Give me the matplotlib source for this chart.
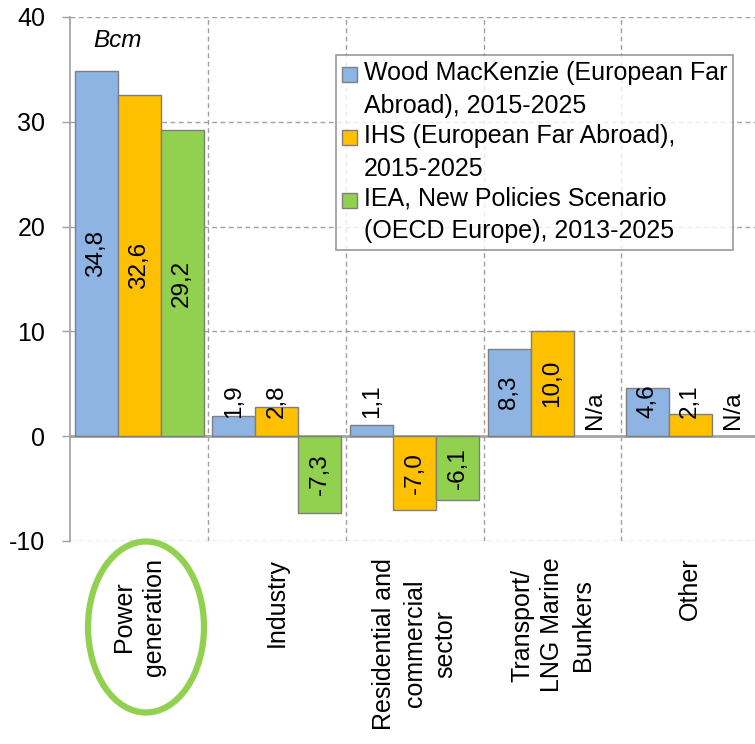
import numpy as np
import matplotlib
matplotlib.use("Agg")
import matplotlib.pyplot as plt
import matplotlib.patches as mpatches
from matplotlib.container import BarContainer
from matplotlib.legend_handler import HandlerPatch, update_from_first_child

plt.rcParams['font.family'] = ['Liberation Sans', 'DejaVu Sans']
plt.rcParams['axes.unicode_minus'] = False

categories = ["Power\ngeneration", "Industry", "Residential and\ncommercial\nsector",
              "Transport/\nLNG Marine\nBunkers", "Other"]
wood = [34.8, 1.9, 1.1, 8.3, 4.6]
ihs = [32.6, 2.8, -7.0, 10.0, 2.1]
iea = [29.2, -7.3, -6.1, np.nan, np.nan]

series = [
    ("Wood MacKenzie (European Far\nAbroad), 2015-2025", wood, "#8DB4E2"),
    ("IHS (European Far Abroad),\n2015-2025", ihs, "#FFC000"),
    ("IEA, New Policies Scenario\n(OECD Europe), 2013-2025", iea, "#92D050"),
]

fig = plt.figure(figsize=(7.55, 7.44), dpi=100)
ax = fig.add_axes([70.3 / 755, 203 / 744, 688.7 / 755, 524 / 744])

x = np.arange(len(categories))
w = 0.312
grid_kw = dict(color="#A0A0A0", linewidth=1, linestyle=(0, (3.5, 2.5)))

for i, (name, vals, col) in enumerate(series):
    pos = x + (i - 1) * w
    ax.bar(pos, vals, width=w, color=col, edgecolor="#7F7F7F", linewidth=1,
           label=name, zorder=3)
    for xp, v in zip(pos, vals):
        if np.isnan(v):
            ax.text(xp, 2.5, "N/a", rotation=90, ha="center", va="center",
                    fontsize=17.5, zorder=4)
            continue
        yp = v / 2 if abs(v) >= 5 else 3.3
        ax.text(xp, yp, f"{v:.1f}".replace(".", ","), rotation=90,
                ha="center", va="center", fontsize=17.5, zorder=4)

ax.set_xlim(-0.5, 4.5)
ax.set_ylim(-10, 40)
ax.set_yticks([-10, 0, 10, 20, 30, 40])
ax.set_xticks(x)
ax.set_xticklabels(categories, rotation=90, fontsize=18, linespacing=1.33,
                   multialignment="center")
ax.set_xticks(x[:-1] + 0.5, minor=True)
ax.tick_params(axis="x", which="both", length=0, pad=12)
ax.tick_params(axis="y", labelsize=18, length=6, width=1, color="#A0A0A0",
               pad=12)

ax.grid(True, axis="y", which="major", **grid_kw)
ax.grid(True, axis="x", which="minor", **grid_kw)
ax.axhline(0, color="#A6A6A6", linewidth=2, zorder=2)
for s in ["top", "right", "bottom"]:
    ax.spines[s].set_visible(False)
ax.spines["left"].set_color("#A0A0A0")
ax.spines["left"].set_linewidth(1.2)

ax.text(0.034, 0.955, "Bcm", transform=ax.transAxes, fontsize=17.5,
        style="italic", va="center", ha="left")


def top_square(legend, orig_handle, xdescent, ydescent, width, height, fontsize):
    # put the swatch beside the first line of a two-line label
    return mpatches.Rectangle((-xdescent, -ydescent + 0.62 * fontsize), width, height)


leg = fig.legend(loc="upper left", bbox_to_anchor=(336 / 755, 1 - 55 / 744),
                 fontsize=18, frameon=True, fancybox=False, edgecolor="#7F7F7F",
                 handlelength=0.6, handleheight=0.55, handletextpad=0.25,
                 borderpad=0.25, borderaxespad=0, labelspacing=0.25,
                 handler_map={BarContainer: HandlerPatch(
                     patch_func=top_square, update_func=update_from_first_child)})
leg.get_frame().set_linewidth(1.2)
for t in leg.get_texts():
    t.set_linespacing(1.45)

# highlight the power sector label
fig.patches.append(mpatches.Ellipse((146 / 755, 1 - 627 / 744), 116 / 755, 171 / 744,
                                    transform=fig.transFigure, fill=False,
                                    edgecolor="#92D050", linewidth=4.5))

fig.savefig("out.png", dpi=100)
